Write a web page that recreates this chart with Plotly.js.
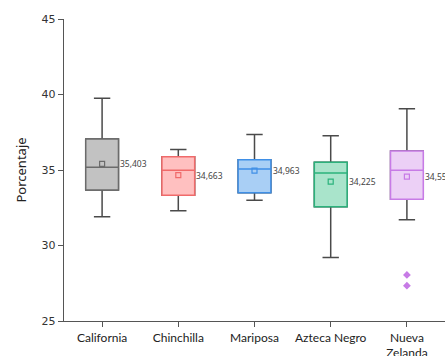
<!DOCTYPE html>
<html><head><meta charset="utf-8">
<script src="https://cdn.plot.ly/plotly-3.0.1.min.js"></script>
<style>html,body{margin:0;padding:0;background:#fff}#chart{width:445px;height:356px}</style>
</head><body><div id="chart"></div>
<script>
const categories = ["California", "Chinchilla", "Mariposa", "Azteca Negro", "Nueva<br>Zelanda"];
const lowerWhisker = [31.9, 32.3, 33.0, 29.2, 31.7];
const q1Values = [33.68, 33.32, 33.5, 32.57, 33.06];
const medianValues = [35.18, 34.98, 35.07, 34.8, 34.98];
const q3Values = [37.05, 35.88, 35.68, 35.51, 36.26];
const upperWhisker = [39.75, 36.35, 37.35, 37.27, 39.05];
const meanValues = [35.403, 34.663, 34.963, 34.225, 34.556];
const meanLabels = ["35,403", "34,663", "34,963", "34,225", "34,556"];
const outlierCategory = ["Nueva<br>Zelanda", "Nueva<br>Zelanda"];
const outlierValues = [28.05, 27.34];

const lineColors = ["#6b6b6b", "#f06a6a", "#3f8fe6", "#2bb27c", "#c77be6"];
const fillColors = ["#c2c2c2", "#ffc0c0", "#a9cff5", "#a9e4cb", "#ecd0f6"];
const boxW = 0.43;

const traces = [];
// whiskers (dark gray)
traces.push({
  type: "box", x: categories, q1: q1Values, median: medianValues, q3: q3Values,
  lowerfence: lowerWhisker, upperfence: upperWhisker,
  line: {color: "#4a4a4a", width: 1.5}, fillcolor: "rgba(0,0,0,0)",
  width: boxW, whiskerwidth: 0.5, boxpoints: false, hoverinfo: "skip", showlegend: false
});
// coloured boxes
categories.forEach((c, i) => {
  traces.push({
    type: "box", x: [c], q1: [q1Values[i]], median: [medianValues[i]], q3: [q3Values[i]],
    lowerfence: [q1Values[i]], upperfence: [q3Values[i]],
    line: {color: lineColors[i], width: 1.5}, fillcolor: fillColors[i],
    width: boxW, whiskerwidth: 0, boxpoints: false, showlegend: false
  });
});
// means
traces.push({
  type: "scatter", mode: "markers", x: categories, y: meanValues,
  marker: {symbol: "square-open", size: 5, color: lineColors, line: {width: 1.2, color: lineColors}},
  showlegend: false, cliponaxis: false
});
// outliers
traces.push({
  type: "scatter", mode: "markers", x: outlierCategory, y: outlierValues,
  marker: {symbol: "diamond", size: 6, color: "#c77be6"}, showlegend: false
});

const annotations = categories.map((c, i) => ({
  x: c, y: meanValues[i], xref: "x", yref: "y", text: meanLabels[i],
  showarrow: false, xanchor: "left", yanchor: "middle", xshift: 16,
  font: {family: "Noto Sans", size: 8.5, color: "#444"}
}));

const layout = {
  width: 445, height: 356,
  margin: {l: 64, r: 0, t: 19, b: 35},
  paper_bgcolor: "#fff", plot_bgcolor: "#fff",
  boxmode: "overlay",
  showlegend: false,
  font: {family: "Noto Sans", color: "#333"},
  xaxis: {
    type: "category", range: [-0.5, 4.5], showgrid: false, zeroline: false,
    showline: true, linecolor: "#555", linewidth: 1.2,
    ticks: "outside", ticklen: 5, tickcolor: "#555",
    tickfont: {family: "Lato", size: 12, color: "#222"}
  },
  yaxis: {
    range: [25, 45], tickvals: [25, 30, 35, 40, 45], showgrid: false, zeroline: false,
    showline: true, linecolor: "#555", linewidth: 1.2,
    ticks: "outside", ticklen: 5, tickcolor: "#555",
    tickfont: {family: "DejaVu Sans", size: 11, color: "#333"},
    title: {text: "Porcentaje", font: {family: "Noto Sans", size: 13, color: "#222"}, standoff: 12}
  },
  annotations: annotations
};
Plotly.newPlot("chart", traces, layout, {displayModeBar: false, staticPlot: true});
</script></body></html>
